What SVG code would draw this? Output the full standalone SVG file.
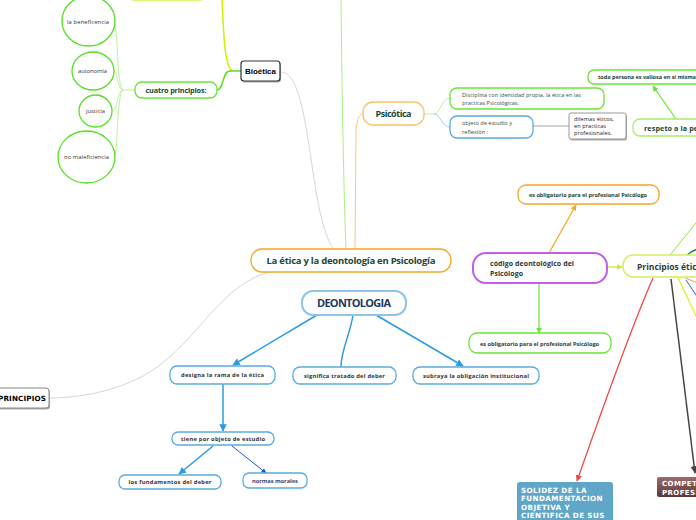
<svg xmlns="http://www.w3.org/2000/svg" width="696" height="520" viewBox="0 0 696 520">
<style>
.t{font-family:"Open Sans","Noto Sans",sans-serif;fill:#1e4636}
.b{font-weight:bold}
.s{font-size:5.6px}
.bx{fill:#fff}
.gr{stroke:#66e633;stroke-width:1.3}
.bl{stroke:#5aacdf;stroke-width:1.3}
.or{stroke:#f5a623;stroke-width:1.3}
.bt{font-family:"Open Sans","Noto Sans",sans-serif;font-weight:bold;font-size:5.8px;fill:#333}
.c{fill:none}
.wt{font-family:"DejaVu Sans","Verdana",sans-serif;font-weight:bold;fill:#fff}
</style>
<defs>
<marker id="ab" viewBox="0 0 10 10" refX="9" refY="5" markerWidth="5" markerHeight="5" orient="auto"><path d="M0,0L10,5L0,10z" fill="#2b9be0"/></marker>
<marker id="an" viewBox="0 0 10 10" refX="9" refY="5" markerWidth="5" markerHeight="5" orient="auto"><path d="M0,0L10,5L0,10z" fill="#1a55e0"/></marker>
<marker id="ao" viewBox="0 0 10 10" refX="9" refY="5" markerWidth="5" markerHeight="5" orient="auto"><path d="M0,0L10,5L0,10z" fill="#f5a623"/></marker>
<marker id="ag" viewBox="0 0 10 10" refX="9" refY="5" markerWidth="5" markerHeight="5" orient="auto"><path d="M0,0L10,5L0,10z" fill="#66e633"/></marker>
<marker id="ay" viewBox="0 0 10 10" refX="9" refY="5" markerWidth="5" markerHeight="5" orient="auto"><path d="M0,0L10,5L0,10z" fill="#c8ec30"/></marker>
<marker id="ak" viewBox="0 0 10 10" refX="9" refY="5" markerWidth="5" markerHeight="5" orient="auto"><path d="M0,0L10,5L0,10z" fill="#444"/></marker>
<marker id="ar" viewBox="0 0 10 10" refX="9" refY="5" markerWidth="5" markerHeight="5" orient="auto"><path d="M0,0L10,5L0,10z" fill="#f04848"/></marker>
<linearGradient id="brown" x1="0" y1="0" x2="0" y2="1"><stop offset="0" stop-color="#9c6c6c"/><stop offset="1" stop-color="#5c3636"/></linearGradient>
</defs>
<rect width="696" height="520" fill="#fff"/>

<g id="connectors" fill="none">
<path d="M222,-2 C224,50 226,66 232,71" stroke="#d4f000" stroke-width="1.5"/>
<path d="M241,71 L230,71 C222,71 224,90 217,90" stroke="#55e022" stroke-width="1.5"/>
<g stroke="#a8f080" stroke-width="0.8">
<path d="M135,90 L123,90"/>
<path d="M123,90 C117,90 118,26 114,23"/>
<path d="M123,90 C117,90 118,71 114,71"/>
<path d="M123,90 C117,90 118,111 112,111"/>
<path d="M123,90 C117,90 118,157 114,157"/>
</g>
<path d="M280,72 C300,72 305,120 315,185 C322,230 330,245 334,249" stroke="#d0d0d0" stroke-width="0.9"/>
<path d="M341,-2 C342,100 344,200 346,249" stroke="#a8f080" stroke-width="1"/>
<path d="M355,249 L356,130 C357,118 359,114 364,114" stroke="#fbc97a" stroke-width="1"/>
<path d="M424,114 L434,114 C440,114 442,98 450,98" stroke="#a8f080" stroke-width="0.8"/>
<path d="M434,114 C440,114 442,127 450,127" stroke="#90b8f0" stroke-width="0.8"/>
<path d="M533,126 L569,126" stroke="#999" stroke-width="0.9"/>
<path d="M676,119 L653,86" stroke="#66e633" stroke-width="1.2" marker-end="url(#ag)"/>
<path d="M273,271 C220,283 200,340 150,372 C115,393 75,398 49,398" stroke="#d0d0d0" stroke-width="0.9"/>
<path d="M317,315 L233,365" stroke="#2b9be0" stroke-width="1.5" marker-end="url(#ab)"/>
<path d="M353,315 C350,335 341,350 341,367" stroke="#2b9be0" stroke-width="1.5"/>
<path d="M376,315 L463,366" stroke="#2b9be0" stroke-width="1.5" marker-end="url(#ab)"/>
<path d="M223,384 L223,431" stroke="#2b9be0" stroke-width="1.5" marker-end="url(#ab)"/>
<path d="M213,446 L179,474" stroke="#2b9be0" stroke-width="1.5" marker-end="url(#ab)"/>
<path d="M232,446 L266,473" stroke="#1a55e0" stroke-width="1" marker-end="url(#an)"/>
<path d="M549,253 L576,205" stroke="#f5a623" stroke-width="1.2" marker-end="url(#ao)"/>
<path d="M539,284 L539,333" stroke="#66e633" stroke-width="1.2" marker-end="url(#ag)"/>
<path d="M607,267 L622,267" stroke="#c8ec30" stroke-width="1.2" marker-end="url(#ay)"/>
<path d="M670,255 L700,218" stroke="#88e830" stroke-width="1"/>
<path d="M686,256 C690,252 694,250 698,249" stroke="#1e7a50" stroke-width="1.5"/>
<path d="M653,278 Q630,330 577,481" stroke="#f04848" stroke-width="1.3" marker-end="url(#ar)"/>
<path d="M671,279 L695,473" stroke="#444" stroke-width="1.5" marker-end="url(#ak)"/>
<path d="M686,280 L698,298" stroke="#2060e0" stroke-width="1"/>
<path d="M685,278 L698,283" stroke="#f5a623" stroke-width="1"/>
<path d="M678,278 L698,320" stroke="#d8f020" stroke-width="1.2"/>
</g>

<g id="top-yellow"><rect x="129" y="-15" width="76" height="15.5" rx="6" class="bx" stroke="#e4f27a" stroke-width="1.3"/></g>

<g id="bioetica">
<rect x="242" y="62.5" width="39" height="20" rx="3" fill="#aaa"/>
<rect x="241" y="61" width="39" height="20" rx="3" class="bx" stroke="#333" stroke-width="1.2"/>
<text x="260.5" y="74" text-anchor="middle" font-family="Liberation Sans,Arial,sans-serif" font-weight="bold" font-size="8" fill="#000" textLength="31">Bioética</text>
</g>

<g id="cuatro">
<rect x="135" y="82" width="82" height="16" rx="7" class="bx gr"/>
<text x="176" y="92.6" text-anchor="middle" class="t b" font-size="7.3" textLength="61">cuatro principios:</text>
</g>

<g id="beneficencia"><ellipse cx="88.5" cy="21" rx="26.5" ry="25" class="bx" stroke="#55e022" stroke-width="1.3"/><text x="88" y="24" text-anchor="middle" class="t" font-size="5.8" style="fill:#333" textLength="42">la beneficencia</text></g>
<g id="autonomia"><ellipse cx="93" cy="71" rx="21" ry="19" class="bx" stroke="#55e022" stroke-width="1.3"/><text x="92.5" y="73" text-anchor="middle" class="t" font-size="5.8" style="fill:#333" textLength="29">autonomía</text></g>
<g id="justicia"><ellipse cx="95.5" cy="111" rx="16.5" ry="16" class="bx" stroke="#55e022" stroke-width="1.3"/><text x="95.5" y="113" text-anchor="middle" class="t" font-size="5.8" style="fill:#333" textLength="19">justicia</text></g>
<g id="nomaleficiencia"><ellipse cx="86.5" cy="157" rx="28.5" ry="26" class="bx" stroke="#55e022" stroke-width="1.3"/><text x="86.5" y="159" text-anchor="middle" class="t" font-size="5.8" style="fill:#333" textLength="45">no maleficiencia</text></g>

<g id="psicotica">
<rect x="363" y="102" width="61" height="23" rx="10" class="bx" stroke="#fbc26a" stroke-width="1.3"/>
<text x="393.5" y="117" text-anchor="middle" class="t b" font-size="9" textLength="36">Psicótica</text>
</g>

<g id="disciplina">
<rect x="450" y="88" width="154" height="21" rx="7" class="bx gr"/>
<text class="t s" style="fill:#3a5048"><tspan x="462" y="96.5" textLength="119">Disciplina con identidad propia, la ética en las</tspan><tspan x="462" y="105" textLength="57">practicas Psicológicas.</tspan></text>
</g>

<g id="objeto">
<rect x="450" y="116" width="83" height="22" rx="7" class="bx bl"/>
<text class="t s" style="fill:#3a5048"><tspan x="462" y="125" textLength="50">objeto de estudio y</tspan><tspan x="462" y="133.5" textLength="26">reflexión :</tspan></text>
</g>

<g id="dilemas">
<rect x="570" y="114.5" width="57" height="26" rx="2" fill="#aaa"/>
<rect x="569" y="113" width="57" height="26" rx="2" class="bx" stroke="#999" stroke-width="1"/>
<text class="t s" style="fill:#222"><tspan x="574" y="121" textLength="40">dilemas éticos,</tspan><tspan x="574" y="128" textLength="32">en practicas</tspan><tspan x="574" y="135" textLength="38">profesionales.</tspan></text>
</g>

<g id="toda">
<rect x="588" y="70" width="130" height="14" rx="6" class="bx gr"/>
<text x="598" y="79.3" class="t b s" textLength="98">toda persona es valiosa en sí misma</text>
</g>

<g id="respeto">
<rect x="633" y="119" width="100" height="17" rx="7" class="bx" stroke="#a6ee6a" stroke-width="1.3"/>
<text x="644" y="130.8" class="t b" font-size="7.2" letter-spacing="0.1">respeto a la persona</text>
</g>

<g id="main">
<rect x="251" y="249" width="200" height="23" rx="11" class="bx or"/>
<text x="351" y="264.3" text-anchor="middle" class="t b" font-size="9.5" textLength="169">La ética y la deontología en Psicología</text>
</g>

<g id="principios-left">
<rect x="-4" y="389.5" width="54" height="20" rx="3" fill="#aaa"/>
<rect x="-5" y="388" width="54" height="20" rx="3" class="bx" stroke="#888" stroke-width="1"/>
<text x="46" y="401" text-anchor="end" font-family="DejaVu Sans,Verdana,sans-serif" font-weight="bold" font-size="7.2" fill="#000" textLength="48">PRINCIPIOS</text>
</g>

<g id="deontologia">
<rect x="302" y="291" width="104" height="24" rx="11" class="bx" stroke="#8cc4ea" stroke-width="2"/>
<text x="354" y="307" text-anchor="middle" class="t b" font-size="11" style="fill:#1f3a5f" textLength="74">DEONTOLOGIA</text>
</g>

<g id="designa"><rect x="170" y="366" width="105" height="18" rx="7" class="bx bl"/><text x="222.5" y="377.3" text-anchor="middle" class="bt" textLength="83">designa la rama de la ética</text></g>
<g id="significa"><rect x="293" y="367" width="103" height="17" rx="7" class="bx bl"/><text x="344.5" y="377.8" text-anchor="middle" class="bt" textLength="81">significa tratado del deber</text></g>
<g id="subraya"><rect x="413" y="367" width="126" height="17" rx="7" class="bx bl"/><text x="476" y="377.8" text-anchor="middle" class="bt" textLength="106">subraya la obligación institucional</text></g>
<g id="tiene"><rect x="172" y="432" width="102" height="13" rx="6" class="bx bl"/><text x="223" y="440.8" text-anchor="middle" class="bt" textLength="84">tiene por objeto de estudio</text></g>
<g id="fundamentos"><rect x="119" y="475" width="102" height="14" rx="6" class="bx bl"/><text x="170" y="484.3" text-anchor="middle" class="bt" textLength="83">los fundamentos del deber</text></g>
<g id="normas"><rect x="243" y="473" width="64" height="15" rx="6" class="bx bl"/><text x="275" y="482.8" text-anchor="middle" class="bt" style="fill:#3a4a7a" textLength="46">normas morales</text></g>

<g id="codigo">
<rect x="473" y="253" width="134" height="30" rx="13" class="bx" stroke="#c05ef0" stroke-width="2"/>
<text class="t b" font-size="7" style="fill:#333"><tspan x="490" y="266" textLength="84">código deontológico del</tspan><tspan x="490" y="275.5" textLength="33">Psicólogo</tspan></text>
</g>

<g id="obligatorio-orange">
<rect x="518" y="185" width="141" height="19" rx="8" class="bx or"/>
<text x="588" y="197" text-anchor="middle" class="t b s" textLength="118">es obligatorio para el profesional Psicólogo</text>
</g>

<g id="obligatorio-green">
<rect x="469" y="333" width="142" height="20" rx="8" class="bx gr"/>
<text x="539.5" y="345.5" text-anchor="middle" class="t b s" textLength="119">es obligatorio para el profesional Psicólogo</text>
</g>

<g id="principios-eticos">
<rect x="623" y="255" width="100" height="22" rx="10" class="bx" stroke="#d4f060" stroke-width="1.5"/>
<text x="637" y="269.5" class="t b" font-size="8.5">Principios éticos</text>
</g>

<g id="solidez">
<rect x="517" y="482" width="96" height="50" rx="3" fill="#5fa6c9"/>
<text class="wt" font-size="7.2" letter-spacing="0.4"><tspan x="521" y="492.5">SOLIDEZ DE LA</tspan><tspan x="521" y="501">FUNDAMENTACION</tspan><tspan x="521" y="509.5">OBJETIVA Y</tspan><tspan x="521" y="518">CIENTIFICA DE SUS</tspan></text>
</g>

<g id="competencia">
<rect x="657" y="477" width="60" height="20" rx="2" fill="url(#brown)"/>
<text class="wt" font-size="7" letter-spacing="0.4"><tspan x="662" y="486">COMPETENCIA</tspan><tspan x="662" y="494.5">PROFESIONAL</tspan></text>
</g>
</svg>
